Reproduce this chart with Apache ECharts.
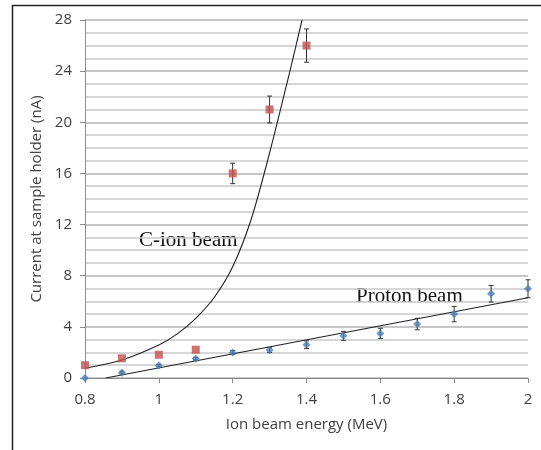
<!DOCTYPE html>
<html lang="en">
<head>
    <meta charset="UTF-8">
    <title>Current at sample holder</title>
    <script src="https://cdn.jsdelivr.net/npm/echarts@6.0.0/dist/echarts.min.js"></script>
    <style>
        html, body { margin: 0; padding: 0; background: #fff; }
        #chart-container { width: 541px; height: 450px; }
    </style>
</head>
<body>
<div id="chart-container"></div>

<script>
    // measured points: [energy, current]
    var cIonPoints = [[0.8, 1.0], [0.9, 1.54], [1.0, 1.82], [1.1, 2.21], [1.2, 16.0], [1.3, 21.0], [1.4, 26.0]];
    var cIonErr = [0, 0, 0, 0, 0.8, 1.05, 1.3];

    var protonPoints = [[0.8, 0], [0.9, 0.42], [1.0, 0.97], [1.1, 1.51], [1.2, 2.0], [1.3, 2.19],
        [1.4, 2.6], [1.5, 3.3], [1.6, 3.49], [1.7, 4.22], [1.8, 5.0], [1.9, 6.59], [2.0, 6.98]];
    var protonErr = [0.05, 0.1, 0.1, 0.1, 0.15, 0.2, 0.3, 0.35, 0.4, 0.45, 0.6, 0.65, 0.7];

    // trend lines
    var cIonFit = [[0.8, 0.76], [0.9, 1.41], [1.0, 2.58], [1.05, 3.45], [1.1, 4.67], [1.15, 6.3],
        [1.2, 8.7], [1.25, 12.4], [1.3, 17.6], [1.35, 23.4], [1.388, 28]];
    var protonFit = [[0.856, 0], [2.0, 6.28]];

    var xTicks = { min: 0.8, max: 2, step: 0.2 };
    var yTicks = { min: 0, max: 28, step: 4 };

    function withErr(points, err) {
        return points.map(function (p, i) { return [p[0], p[1] - err[i], p[1] + err[i]]; });
    }

    function errorBar(params, api) {
        var lo = api.coord([api.value(0), api.value(1)]);
        var hi = api.coord([api.value(0), api.value(2)]);
        if (Math.abs(lo[1] - hi[1]) < 2) return null;
        var w = 2.5;
        var st = { stroke: '#333', lineWidth: 1 };
        return {
            type: 'group',
            children: [
                { type: 'line', shape: { x1: lo[0], y1: lo[1], x2: hi[0], y2: hi[1] }, style: st },
                { type: 'line', shape: { x1: lo[0] - w, y1: lo[1], x2: lo[0] + w, y2: lo[1] }, style: st },
                { type: 'line', shape: { x1: hi[0] - w, y1: hi[1], x2: hi[0] + w, y2: hi[1] }, style: st }
            ]
        };
    }

    var axisFont = { fontFamily: 'Open Sans', fontSize: 15, color: '#404040' };

    var option = {
        animation: false,
        grid: { left: 85, right: 13, top: 20, bottom: 72 },
        xAxis: {
            type: 'value',
            min: xTicks.min,
            max: xTicks.max,
            interval: xTicks.step,
            name: 'Ion beam energy (MeV)',
            nameLocation: 'middle',
            nameGap: 39,
            nameTextStyle: axisFont,
            axisLine: { show: true, lineStyle: { color: '#8c8c8c' } },
            axisTick: { show: true, length: 5, lineStyle: { color: '#8c8c8c' } },
            axisLabel: Object.assign({ margin: 14 }, axisFont),
            splitLine: { show: false }
        },
        yAxis: {
            type: 'value',
            min: yTicks.min,
            max: yTicks.max,
            interval: yTicks.step,
            name: 'Current at sample holder (nA)',
            nameLocation: 'middle',
            nameGap: 40,
            nameTextStyle: axisFont,
            axisLine: { show: true, lineStyle: { color: '#8c8c8c' } },
            axisTick: { show: true, length: 5, lineStyle: { color: '#8c8c8c' } },
            axisLabel: Object.assign({ margin: 13 }, axisFont),
            splitLine: { show: true, lineStyle: { color: '#b4b4b4', width: 1.5 } },
            minorTick: { show: false, splitNumber: 4 },
            minorSplitLine: { show: true, lineStyle: { color: '#c9c9c9', width: 1.5 } }
        },
        series: [
            {
                type: 'line', data: cIonFit, smooth: 0.3, symbol: 'none',
                lineStyle: { color: '#222', width: 1.1 }, z: 3
            },
            {
                type: 'line', data: protonFit, symbol: 'none',
                lineStyle: { color: '#222', width: 1.1 }, z: 3
            },
            { type: 'custom', data: withErr(cIonPoints, cIonErr), renderItem: errorBar, z: 4 },
            { type: 'custom', data: withErr(protonPoints, protonErr), renderItem: errorBar, z: 4 },
            {
                type: 'scatter', data: cIonPoints, symbol: 'rect', symbolSize: 8,
                itemStyle: { color: '#c0504d' }, z: 5
            },
            {
                type: 'scatter', data: protonPoints, symbol: 'diamond', symbolSize: 8,
                itemStyle: { color: '#4a7ebb' }, z: 5
            }
        ],
        graphic: [
            {
                type: 'polyline', silent: true,
                shape: { points: [[12.5, 450], [12.5, 5.5], [541, 5.5]] },
                style: { stroke: '#222', lineWidth: 1.5, fill: null }
            },
            {
                type: 'text', left: 139, top: 230,
                style: { text: 'C-ion beam', font: '21px "Liberation Serif", serif', fill: '#111' }
            },
            {
                type: 'text', left: 356, top: 286,
                style: { text: 'Proton beam', font: '21px "Liberation Serif", serif', fill: '#111' }
            }
        ]
    };

    var chart = echarts.init(document.getElementById('chart-container'));
    chart.setOption(option);
</script>
</body>
</html>
